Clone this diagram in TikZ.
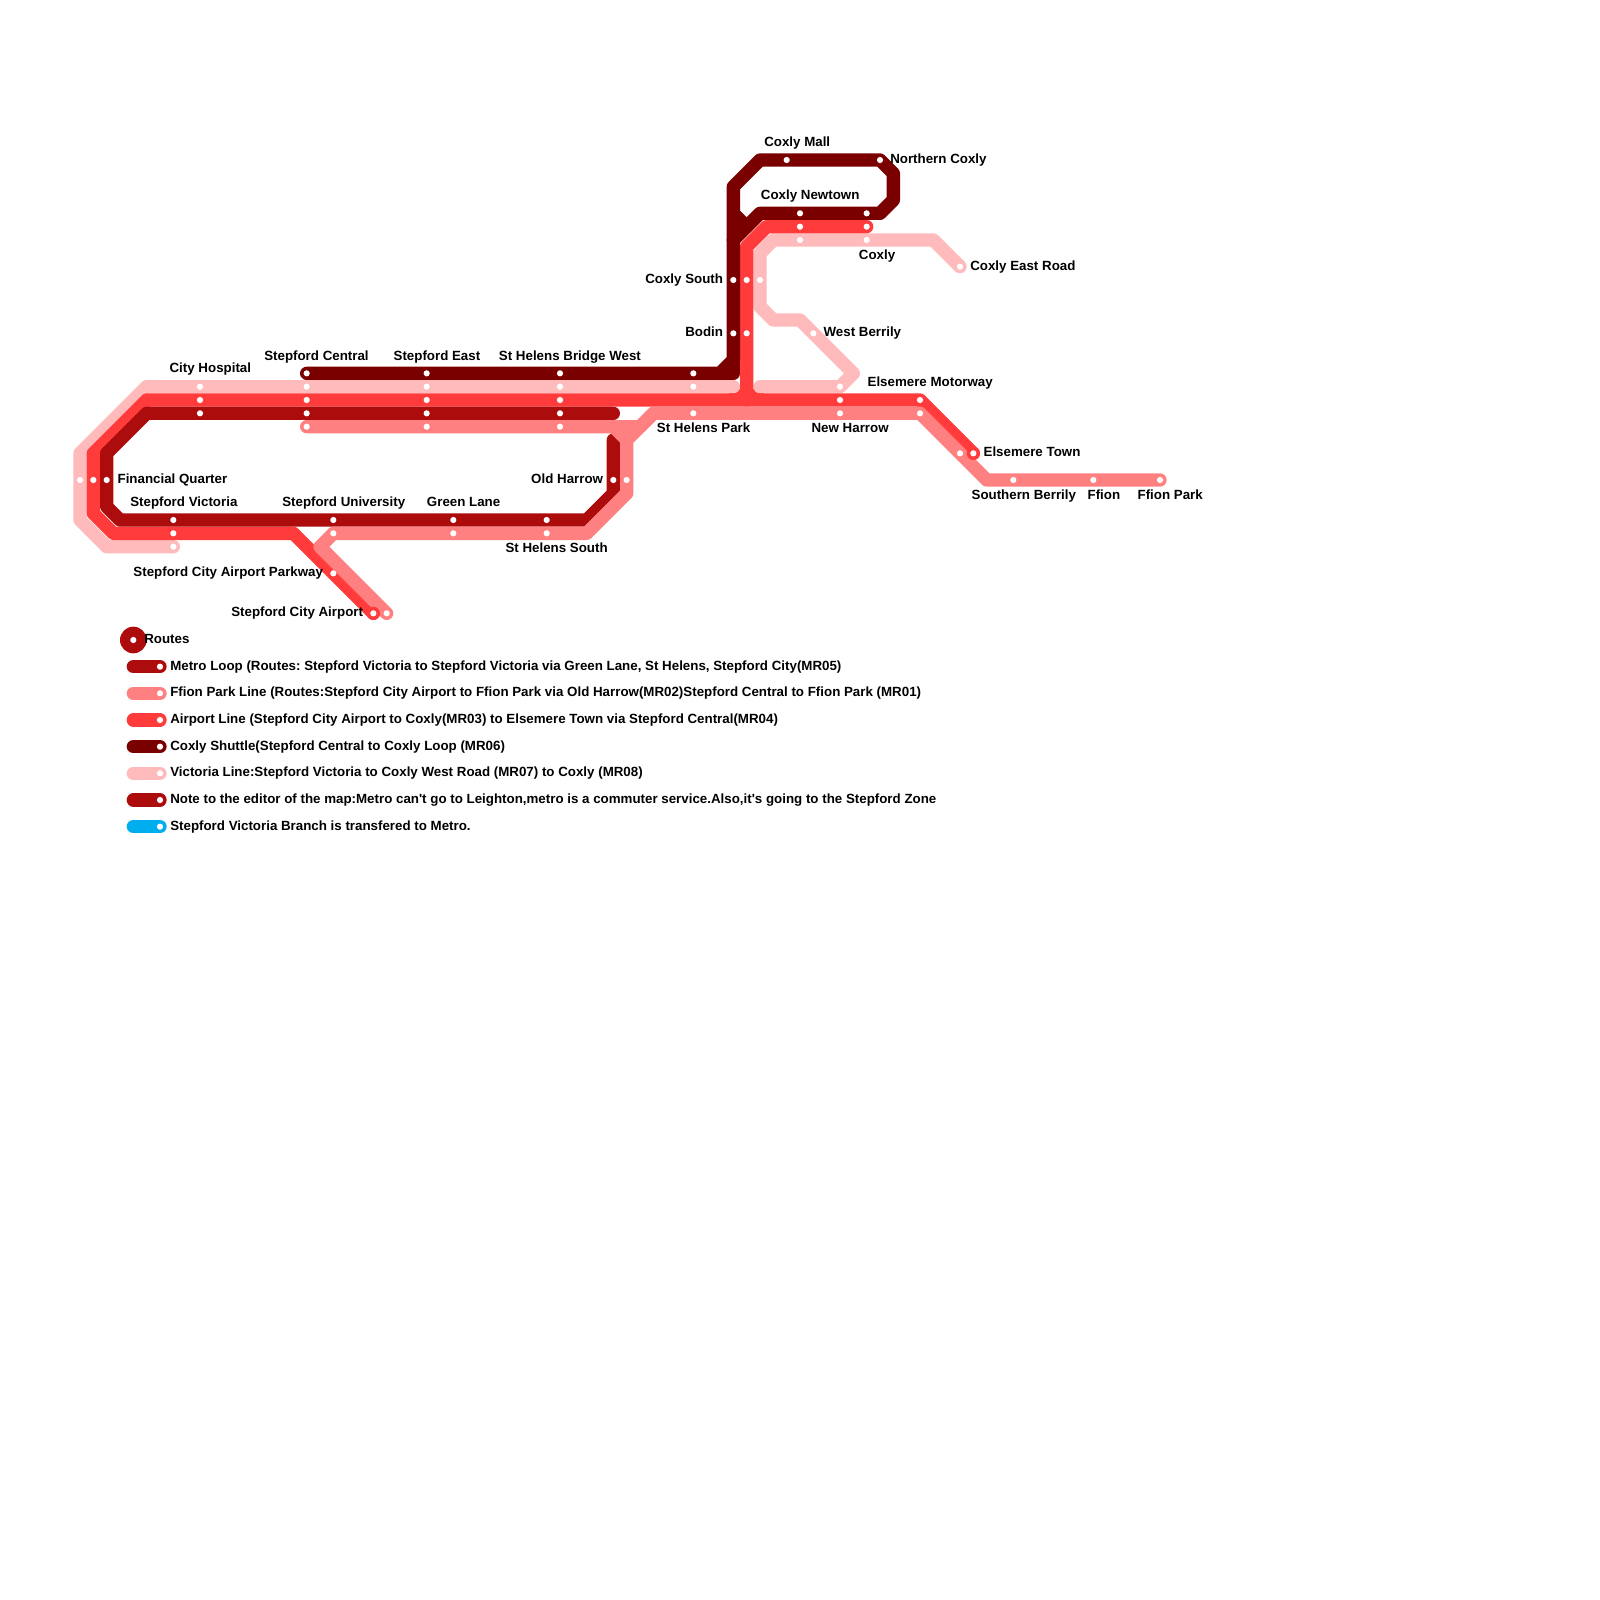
\documentclass[tikz,border=0pt]{standalone}
\usepackage{fontspec}
\usetikzlibrary{backgrounds}
\newfontfamily\mapfont{Liberation Sans}
\definecolor{metrored}{HTML}{AD0C0C}
\definecolor{ffionred}{HTML}{FF8080}
\definecolor{airportred}{HTML}{FF3B3B}
\definecolor{shuttlered}{HTML}{7A0000}
\definecolor{victoriared}{HTML}{FFBBBB}
\definecolor{branchblue}{HTML}{00AEEF}
\frenchspacing
\tikzset{
  stn/.style={circle, fill=white, inner sep=0pt, minimum size=0.155cm},
  endcap/.style={circle, fill=airportred, inner sep=0pt, minimum size=0.333cm},
  hub/.style={circle, fill=metrored, inner sep=0pt, minimum size=0.667cm},
  lbl/.style={inner sep=0pt, text height=8.9pt, text depth=2pt,
              font=\mapfont\fontsize{9.48}{11}\selectfont\bfseries},
  lbll/.style={lbl, anchor=west},
  lblr/.style={lbl, anchor=east},
  track/.style={line width=0.333cm, line cap=round, line join=round},
  metro/.style={track, metrored},
  ffion/.style={track, ffionred},
  airport/.style={track, airportred},
  shuttle/.style={track, shuttlered},
  victoria/.style={track, victoriared},
  branch/.style={track, branchblue},
}

\begin{document}
\begin{tikzpicture}[x=0.33333cm, y=-0.33333cm]
  \useasboundingbox (0,0) rectangle (120,120);
  % Red end caps
  \node[endcap] (capAirport) at (28,46) {};
  \node[endcap] (capTown) at (73,34) {};
  % Stations, top rows
  \node[stn] (chV) at (15,29) {}; \node[stn] (chA) at (15,30) {}; \node[stn] (chM) at (15,31) {};
  \node[stn] (scS) at (23,28) {}; \node[stn] (scV) at (23,29) {}; \node[stn] (scA) at (23,30) {};
  \node[stn] (scM) at (23,31) {}; \node[stn] (scF) at (23,32) {};
  \node[stn] (seS) at (32,28) {}; \node[stn] (seV) at (32,29) {}; \node[stn] (seA) at (32,30) {};
  \node[stn] (seM) at (32,31) {}; \node[stn] (seF) at (32,32) {};
  \node[stn] (sbS) at (42,28) {}; \node[stn] (sbV) at (42,29) {}; \node[stn] (sbA) at (42,30) {};
  \node[stn] (sbM) at (42,31) {}; \node[stn] (sbF) at (42,32) {};
  \node[stn] (spS) at (52,28) {}; \node[stn] (spV) at (52,29) {}; \node[stn] (spF) at (52,31) {};
  \node[stn] (nhV) at (63,29) {}; \node[stn] (nhA) at (63,30) {}; \node[stn] (nhF) at (63,31) {};
  \node[stn] (emA) at (69,30) {}; \node[stn] (emF) at (69,31) {};
  % Stations, left and bottom
  \node[stn] (fqV) at (6,36) {}; \node[stn] (fqA) at (7,36) {}; \node[stn] (fqM) at (8,36) {};
  \node[stn] (svM) at (13,39) {}; \node[stn] (svA) at (13,40) {}; \node[stn] (svV) at (13,41) {};
  \node[stn] (suM) at (25,39) {}; \node[stn] (suF) at (25,40) {};
  \node[stn] (glM) at (34,39) {}; \node[stn] (glF) at (34,40) {};
  \node[stn] (ssM) at (41,39) {}; \node[stn] (ssF) at (41,40) {};
  \node[stn] (ohM) at (46,36) {}; \node[stn] (ohF) at (47,36) {};
  \node[stn] (apk) at (25,43) {};
  \node[stn] (airA) at (28,46) {}; \node[stn] (airF) at (29,46) {};
  % Stations, Coxly end
  \node[stn] (csS) at (55,21) {}; \node[stn] (csA) at (56,21) {}; \node[stn] (csV) at (57,21) {};
  \node[stn] (boS) at (55,25) {}; \node[stn] (boA) at (56,25) {};
  \node[stn] (wb) at (61,25) {};
  \node[stn] (cm) at (59,12) {}; \node[stn] (nc) at (66,12) {};
  \node[stn] (cnS) at (60,16) {}; \node[stn] (cnA) at (60,17) {}; \node[stn] (cnV) at (60,18) {};
  \node[stn] (coS) at (65,16) {}; \node[stn] (coA) at (65,17) {}; \node[stn] (coV) at (65,18) {};
  \node[stn] (cer) at (72,20) {};
  % Stations, Ffion end
  \node[stn] (etF) at (72,34) {}; \node[stn] (etA) at (73,34) {};
  \node[stn] (sob) at (76,36) {}; \node[stn] (ffi) at (82,36) {}; \node[stn] (fpk) at (87,36) {};
  % Lines, bottom one first
  \begin{pgfonlayer}{background}
    \fill[airportred] (54.7,29.2) rectangle (57.3,30);
    \draw[victoria] (svV.center)--(8,41)--(6,39)--(6,34)--(11,29)--(55,29);
    \draw[victoria] (57,29)--(nhV.center)--(64,28)--(wb.center)--(60,24)--(58,24)--(57,23)
      --(57,19)--(58,18)--(70,18)--(cer.center);
    \draw[shuttle] (56,17)--(55,18);
    \draw[airport] (airA.center)--(22,40)--(8.5,40)--(7,38.5)--(7,34)--(11,30)--(56,30)
      --(56,18.5)--(57.5,17)--(coA.center);
    \draw[airport] (56,30)--(emA.center)--(etA.center);
    \draw[metro] (46,31)--(11,31)--(8,34)--(8,38)--(9,39)--(44,39)--(46,37)--(46,33);
    \draw[ffion] (scF.center)--(48,32)--(49,31)--(emF.center)--(74,36)--(fpk.center);
    \draw[ffion] (airF.center)--(24,41)--(25,40)--(44,40)--(47,37)--(47,33)--(49,31);
    \draw[ffion] (46,32)--(47,33);
    \draw[shuttle] (scS.center)--(54,28)--(55,27)--(55,14)--(57,12)--(nc.center)--(67,13)--(67,15)
      --(66,16)--(57,16)--(56,17)--(55,16);
    \draw[shuttle] (54,28)--(55,28)--(55,27);
  \end{pgfonlayer}
  % Station names
  \node[lbll] (lblCity) at (12.7,27.6) {City Hospital};
  \node[lbll] (lblCentral) at (19.8,26.65) {Stepford Central};
  \node[lbll] (lblEast) at (29.5,26.65) {Stepford East};
  \node[lbll] (lblBridge) at (37.4,26.65) {St Helens Bridge West};
  \node[lbll] (lblFinance) at (8.8,35.9) {Financial Quarter};
  \node[lbll] (lblVictoria) at (9.75,37.6) {Stepford Victoria};
  \node[lbll] (lblUni) at (21.15,37.6) {Stepford University};
  \node[lbll] (lblGreen) at (32,37.6) {Green Lane};
  \node[lblr] (lblSouth) at (45.6,41.1) {St Helens South};
  \node[lblr] (lblParkway) at (24.25,42.9) {Stepford City Airport Parkway};
  \node[lblr] (lblAirport) at (27.25,45.9) {Stepford City Airport};
  \node[lblr] (lblOld) at (45.25,35.9) {Old Harrow};
  \node[lbll] (lblPark) at (49.25,32.1) {St Helens Park};
  \node[lbll] (lblNew) at (60.85,32.1) {New Harrow};
  \node[lbll] (lblMotorway) at (65.05,28.6) {Elsemere Motorway};
  \node[lbll] (lblTown) at (73.75,33.9) {Elsemere Town};
  \node[lbll] (lblSouthern) at (72.85,37.1) {Southern Berrily};
  \node[lbll] (lblFfion) at (81.55,37.1) {Ffion};
  \node[lbll] (lblFfionPark) at (85.3,37.1) {Ffion Park};
  \node[lbll] (lblMall) at (57.3,10.65) {Coxly Mall};
  \node[lbll] (lblNorthern) at (66.75,11.9) {Northern Coxly};
  \node[lbll] (lblNewtown) at (57.05,14.6) {Coxly Newtown};
  \node[lbll] (lblCoxly) at (64.4,19.1) {Coxly};
  \node[lbll] (lblEastRoad) at (72.75,19.9) {Coxly East Road};
  \node[lblr] (lblCoxSouth) at (54.25,20.9) {Coxly South};
  \node[lblr] (lblBodin) at (54.25,24.9) {Bodin};
  \node[lbll] (lblBerrily) at (61.75,24.9) {West Berrily};
  % Legend
  \node[hub] (lgHub) at (10,48) {};
  \node[stn] (lgHubDot) at (10,48) {};
  \node[lbll] (lgRoutes) at (10.8,47.9) {Routes};
  \node[stn] (lgA) at (12,50) {}; \node[stn] (lgB) at (12,52) {}; \node[stn] (lgC) at (12,54) {};
  \node[stn] (lgD) at (12,56) {}; \node[stn] (lgE) at (12,58) {}; \node[stn] (lgF) at (12,60) {};
  \node[stn] (lgG) at (12,62) {};
  \begin{pgfonlayer}{background}
    \draw[metro] (10,50)--(lgA.center);
    \draw[ffion] (10,52)--(lgB.center);
    \draw[airport] (10,54)--(lgC.center);
    \draw[shuttle] (10,56)--(lgD.center);
    \draw[victoria] (10,58)--(lgE.center);
    \draw[metro] (10,60)--(lgF.center);
    \draw[branch] (10,62)--(lgG.center);
  \end{pgfonlayer}
  \node[lbll] (txtA) at (12.75,49.9) {Metro Loop (Routes: Stepford Victoria to Stepford Victoria via Green Lane, St Helens, Stepford City(MR05)};
  \node[lbll] (txtB) at (12.75,51.9) {Ffion Park Line (Routes:Stepford City Airport to Ffion Park via Old Harrow(MR02)Stepford Central to Ffion Park (MR01)};
  \node[lbll] (txtC) at (12.75,53.9) {Airport Line (Stepford City Airport to Coxly(MR03) to Elsemere Town via Stepford Central(MR04)};
  \node[lbll] (txtD) at (12.75,55.9) {Coxly Shuttle(Stepford Central to Coxly Loop (MR06)};
  \node[lbll] (txtE) at (12.75,57.9) {Victoria Line:Stepford Victoria to Coxly West Road (MR07) to Coxly (MR08)};
  \node[lbll] (txtF) at (12.75,59.9) {Note to the editor of the map:Metro can't go to Leighton,metro is a commuter service.Also,it's going to the Stepford Zone};
  \node[lbll] (txtG) at (12.75,61.9) {Stepford Victoria Branch is transfered to Metro.};
\end{tikzpicture}
\end{document}
